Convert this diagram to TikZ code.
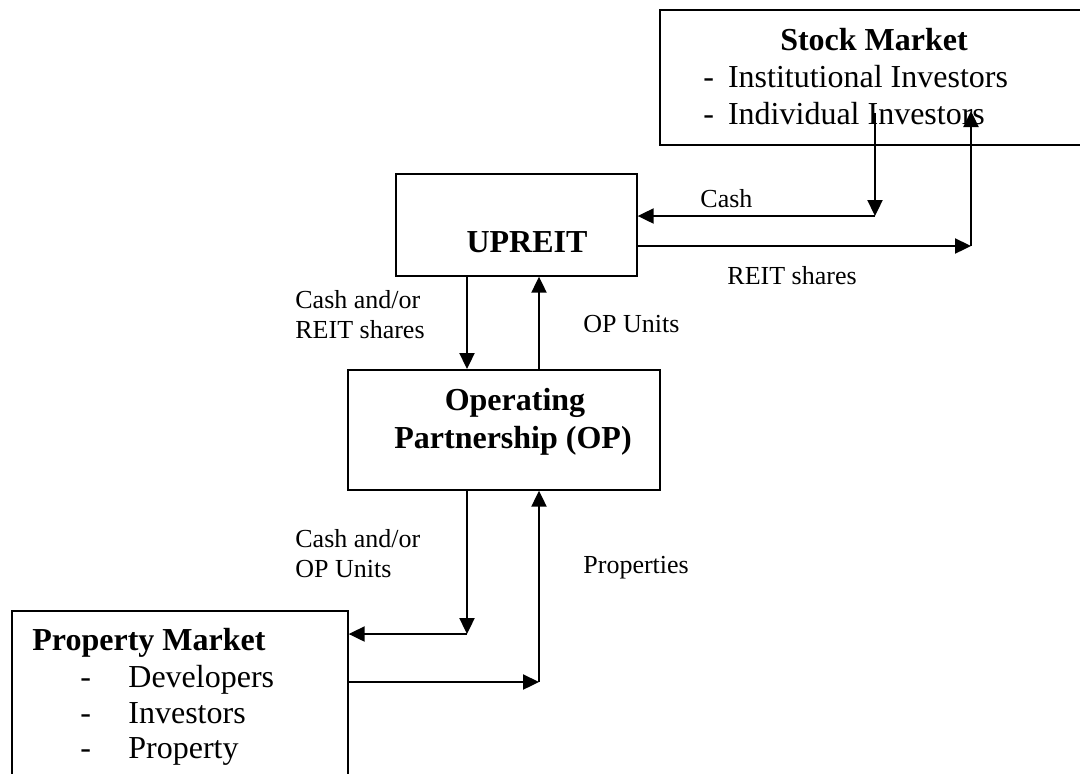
\documentclass[tikz,border=0pt]{standalone}
\usepackage{fontspec}
\setmainfont{Liberation Serif}
\usetikzlibrary{arrows.meta}
\begin{document}
\begin{tikzpicture}[x=0.5pt,y=-0.5pt,
  box/.style={draw,line width=0.85pt,rectangle,inner sep=0pt,anchor=north west},
  arr/.style={line width=0.75pt,-{Triangle[length=8pt,width=7.6pt]}},
  big/.style={font=\fontsize{16}{18.5}\selectfont,inner sep=0pt},
  bigb/.style={font=\fontsize{16}{18.5}\selectfont\bfseries,inner sep=0pt},
  lab/.style={font=\fontsize{13}{15}\selectfont,inner sep=0pt}]
\clip (0,0) rectangle (1080,773);
% boxes
\node[box,minimum width=220.5pt,minimum height=67.5pt] (stock) at (659,9) {};
\node[box,minimum width=120.5pt,minimum height=51pt] (upreit) at (395,173) {};
\node[box,minimum width=156pt,minimum height=60pt] (op) at (347,369) {};
\node[box,minimum width=168pt,minimum height=95pt] (prop) at (11,610) {};
% box texts
\node[bigb,anchor=base] (stockT) at (874,50) {Stock Market};
\node[big,anchor=base west] (stock1) at (703,87) {-\hspace{7pt}Institutional Investors};
\node[big,anchor=base west] (stock2) at (703,124) {-\hspace{7pt}Individual Investors};
\node[bigb,anchor=base] (upreitT) at (527,252) {UPREIT};
\node[bigb,anchor=base] (opT1) at (515,410) {Operating};
\node[bigb,anchor=base] (opT2) at (513,448) {Partnership (OP)};
\node[bigb,anchor=base west] (propT) at (32,650) {Property Market};
\node[big,anchor=base west] (propD1) at (80,687) {-};
\node[big,anchor=base west] (prop1) at (128,687) {Developers};
\node[big,anchor=base west] (propD2) at (80,723) {-};
\node[big,anchor=base west] (prop2) at (128,723) {Investors};
\node[big,anchor=base west] (propD3) at (80,758) {-};
\node[big,anchor=base west] (prop3) at (128,758) {Property};
% connector coordinates
\coordinate (c1top) at (875,113);
\coordinate (c1) at (875,216);
\coordinate (r1) at (971,246);
\coordinate (r1top) at (971,111);
\coordinate (xa) at (467,0);
\coordinate (xb) at (539,0);
\coordinate (p1) at (467,634);
\coordinate (p2) at (539,682);
% connectors
\draw[arr] (c1top) -- (c1);
\draw[arr] (c1) -- (upreit.east |- c1);
\draw[arr] (upreit.east |- r1) -- (r1);
\draw[arr] (r1) -- (r1top);
\draw[arr] (upreit.south -| xa) -- (op.north -| xa);
\draw[arr] (op.north -| xb) -- (upreit.south -| xb);
\draw[arr] (op.south -| p1) -- (p1);
\draw[arr] (p1) -- (prop.east |- p1);
\draw[arr] (prop.east |- p2) -- (p2);
\draw[arr] (p2) -- (op.south -| p2);
% labels
\node[lab,anchor=base west] (lCash) at (700,207) {Cash};
\node[lab,anchor=base west] (lReit) at (727,284) {REIT shares};
\node[lab,anchor=base west] (lCR1) at (295,308) {Cash and/or};
\node[lab,anchor=base west] (lCR2) at (295,338) {REIT shares};
\node[lab,anchor=base west] (lOPU) at (583,332) {OP Units};
\node[lab,anchor=base west] (lCO1) at (295,547) {Cash and/or};
\node[lab,anchor=base west] (lCO2) at (295,577) {OP Units};
\node[lab,anchor=base west] (lProp) at (583,573) {Properties};
\end{tikzpicture}
\end{document}
